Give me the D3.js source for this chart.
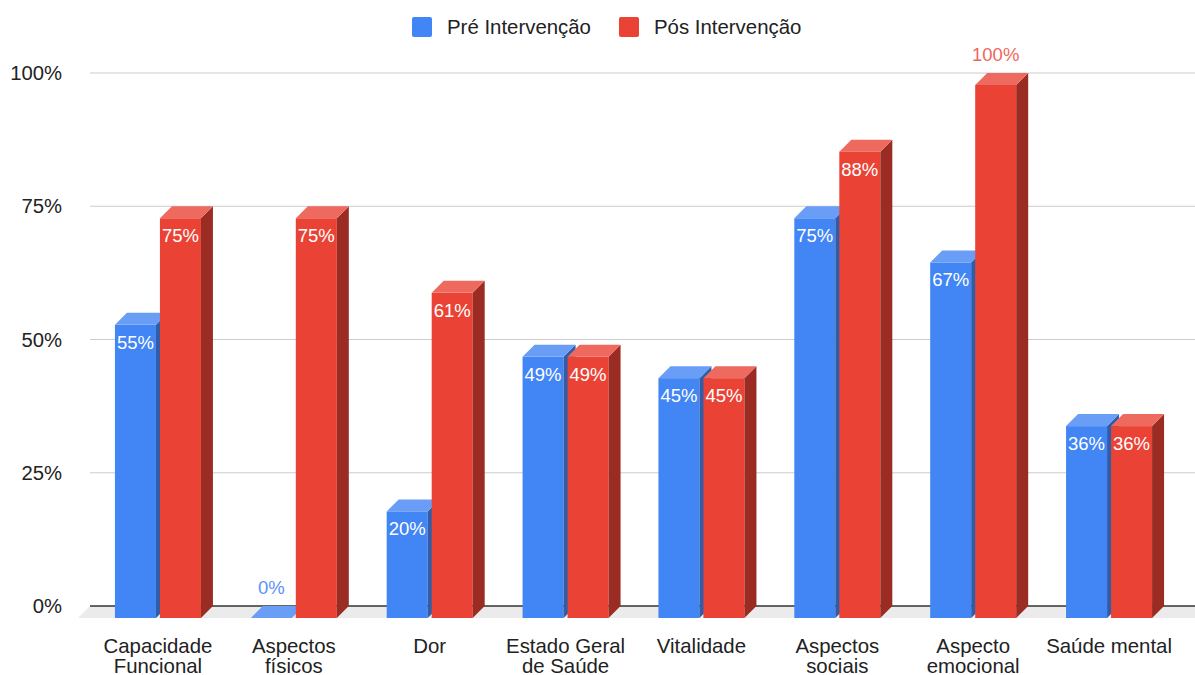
<!DOCTYPE html>
<html><head><meta charset="utf-8">
<script src="https://cdn.jsdelivr.net/npm/d3@7"></script>
<style>body{margin:0;background:#fff}svg{display:block;font-family:"Liberation Sans",Arial,sans-serif}</style>
</head><body><svg id="c" width="1195" height="675"></svg>
<script>
const categories = ["Capacidade Funcional","Aspectos físicos","Dor","Estado Geral de Saúde","Vitalidade","Aspectos sociais","Aspecto emocional","Saúde mental"];
const categoryLines = [["Capacidade","Funcional"],["Aspectos","físicos"],["Dor"],["Estado Geral","de Saúde"],["Vitalidade"],["Aspectos","sociais"],["Aspecto","emocional"],["Saúde mental"]];
const seriesNames = ["Pré Intervenção","Pós Intervenção"];
const preValues = [0.55, 0, 0.20, 0.49, 0.45, 0.75, 0.667, 0.36];
const posValues = [0.75, 0.75, 0.61, 0.49, 0.45, 0.875, 1.00, 0.36];
const yTicks = [0, 0.25, 0.5, 0.75, 1];
const colors = [
  {front:"#4285F4", top:"#6A9DF6", side:"#2E5DAA", label:"#5B93F5"},
  {front:"#EA4335", top:"#EE6A5E", side:"#9A2C24", label:"#EE675C"}
];

const svg = d3.select("#c");
const W = 1195, DX = 12, DY = 12;
const left = 90, right = 1177;
const y = d3.scaleLinear().domain([0,1]).range([606,73]);   // back plane
const x0 = d3.scaleBand().domain(categories).range([left,right]).paddingInner(0.367).paddingOuter(0.1835);
const x1 = d3.scaleBand().domain(seriesNames).range([0,x0.bandwidth()]).paddingInner(0.0889);

// floor
svg.append("polygon")
  .attr("points",[[left-DX, y(0)+DY],[left, y(0)],[W, y(0)],[W, y(0)+DY]].map(p=>p.join(",")).join(" "))
  .attr("fill","#ebebeb");

// gridlines
svg.append("g").selectAll("line").data(yTicks.filter(d=>d>0)).join("line")
  .attr("x1",left).attr("x2",W).attr("y1",d=>y(d)).attr("y2",d=>y(d))
  .attr("stroke","#cccccc").attr("stroke-width",1);
svg.append("line").attr("x1",left).attr("x2",W).attr("y1",y(0)).attr("y2",y(0))
  .attr("stroke","#333").attr("stroke-width",1.3);

// y axis labels
svg.append("g").selectAll("text").data(yTicks).join("text")
  .attr("x",62).attr("y",d=>y(d)).attr("dy","0.35em").attr("text-anchor","end")
  .attr("font-size",20.3).attr("fill","#222").text(d=>d3.format(".0%")(d));

// bars
const data = categories.map((c,i)=>({cat:c, vals:[preValues[i], posValues[i]]}));
const gBars = svg.append("g");
data.forEach(d=>{
  d.vals.forEach((v,si)=>{
    const s = seriesNames[si], col = colors[si];
    const xl = x0(d.cat)+x1(s), xr = xl + x1.bandwidth();
    const yt = y(v)+DY, yb = y(0)+DY;
    const g = gBars.append("g");
    if (v>0) {
      g.append("rect").attr("x",xl).attr("y",yt).attr("width",xr-xl).attr("height",yb-yt).attr("fill",col.front);
      g.append("polygon").attr("points",[[xr,yt],[xr+DX,yt-DY],[xr+DX,yb-DY],[xr,yb]].map(p=>p.join(",")).join(" ")).attr("fill",col.side);
    }
    g.append("polygon").attr("points",[[xl,yt],[xl+DX,yt-DY],[xr+DX,yt-DY],[xr,yt]].map(p=>p.join(",")).join(" ")).attr("fill",col.top);
  });
});
// labels
const gLab = svg.append("g");
data.forEach(d=>{
  d.vals.forEach((v,si)=>{
    const s = seriesNames[si], col = colors[si];
    const cx = x0(d.cat)+x1(s)+x1.bandwidth()/2;
    const yt = y(v)+DY;
    const inside = v>0.05 && v<0.99;
    gLab.append("text").attr("x",cx).attr("y", inside ? yt+24 : yt-24)
      .attr("text-anchor","middle").attr("font-size",18.5)
      .attr("fill", inside ? "#fff" : col.label).text(d3.format(".0%")(v));
  });
});

// category labels
const gCat = svg.append("g");
categories.forEach((c,i)=>{
  const t = gCat.append("text").attr("x",x0(c)+x0.bandwidth()/2).attr("y",653)
    .attr("text-anchor","middle").attr("font-size",20.4).attr("fill","#222");
  categoryLines[i].forEach((ln,k)=>t.append("tspan").attr("x",x0(c)+x0.bandwidth()/2).attr("dy",k?19.5:0).text(ln));
});

// legend
const leg = svg.append("g");
const legX = [412, 619];
seriesNames.forEach((s,i)=>{
  leg.append("rect").attr("x",legX[i]).attr("y",17).attr("width",20).attr("height",20).attr("rx",2).attr("fill",colors[i].front);
  leg.append("text").attr("x",legX[i]+35).attr("y",33.5).attr("font-size",20.4).attr("fill","#222").text(s);
});
</script></body></html>
